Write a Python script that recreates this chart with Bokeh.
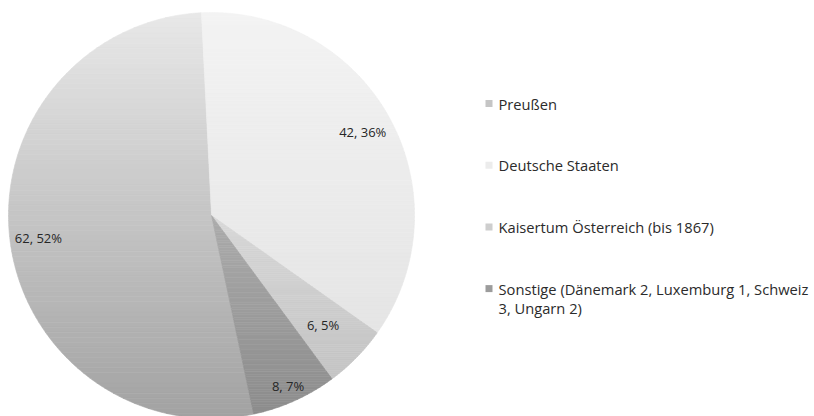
import numpy as np
from bokeh.plotting import figure
from bokeh.models import Range1d
from bokeh.core.properties import value
from bokeh.embed import file_html
from bokeh.resources import INLINE

# ---- data ----
categories = ["Preußen", "Deutsche Staaten", "Kaisertum Österreich (bis 1867)",
              "Sonstige (Dänemark 2, Luxemburg 1, Schweiz 3, Ungarn 2)"]
legend_lines = [["Preußen"], ["Deutsche Staaten"], ["Kaisertum Österreich (bis 1867)"],
                ["Sonstige (Dänemark 2, Luxemburg 1, Schweiz", "3, Ungarn 2)"]]
counts = [62, 42, 6, 8]
percent_labels = ["52%", "36%", "5%", "7%"]

# ---- style ----
grad_top = [0xE8, 0xF3, 0xD8, 0xAC]
grad_bot = [0xA2, 0xE5, 0xC4, 0x8C]
label_radius = [0.86, 0.85, 0.77, 0.92]
first_slice_angle = 168.0  # degrees clockwise from 12 o'clock
FONT = "Open Sans"

W, H = 814, 416
cx, cy, R = 211.0, H - 215.0, 203.0

p = figure(width=W, height=H, output_backend="svg", toolbar_location=None,
           x_range=Range1d(0, W), y_range=Range1d(0, H), min_border=0,
           tools="")
p.axis.visible = False
p.grid.visible = False
p.outline_line_color = None
p.background_fill_color = "white"
p.border_fill_color = "white"


def clip(poly, y, keep_above):
    out = []
    n = len(poly)
    for i in range(n):
        a = poly[i]
        b = poly[(i + 1) % n]
        ina = a[1] >= y if keep_above else a[1] <= y
        inb = b[1] >= y if keep_above else b[1] <= y
        if ina:
            out.append(a)
        if ina != inb:
            t = (y - a[1]) / (b[1] - a[1])
            out.append((a[0] + t * (b[0] - a[0]), y))
    return out


def hexgray(v):
    v = int(round(v))
    return "#%02x%02x%02x" % (v, v, v)


total = float(sum(counts))
theta = first_slice_angle
mids = []
for i, c in enumerate(counts):
    span = c / total * 360.0
    t0, t1 = theta, theta + span
    mids.append((t0 + t1) / 2.0)
    ts = np.radians(np.linspace(t0, t1, max(8, int(span * 2))))
    pts = [(cx, cy)] + [(cx + R * np.sin(t), cy + R * np.cos(t)) for t in ts]
    ys = [q[1] for q in pts]
    ymin, ymax = min(ys), max(ys)
    nb = 80
    edges = np.linspace(ymax, ymin, nb + 1)
    xs_l, ys_l, cols = [], [], []
    for k in range(nb):
        band = clip(pts, edges[k + 1], True)
        band = clip(band, edges[k], False) if band else []
        if len(band) < 3:
            continue
        f = (k + 0.5) / nb
        col = hexgray(grad_top[i] + (grad_bot[i] - grad_top[i]) * f)
        xs_l.append([q[0] for q in band])
        ys_l.append([q[1] for q in band])
        cols.append(col)
    p.patches(xs_l, ys_l, fill_color=cols, line_color=cols, line_width=0.6)
    theta = t1

# data labels
lx, ly, lt = [], [], []
for i, c in enumerate(counts):
    t = np.radians(mids[i])
    r = R * label_radius[i]
    lx.append(cx + r * np.sin(t))
    ly.append(cy + r * np.cos(t))
    lt.append("%d, %s" % (c, percent_labels[i]))
p.text(lx, ly, text=lt, text_font=value(FONT), text_font_size="13px",
       text_color="#262626", text_align="center", text_baseline="middle")

# legend
leg_x, leg_y0, leg_step, line_gap = 488.5, H - 103.0, 61.7, 19.0
sw_x, sw_y, sw_c = [], [], []
tx, ty, tt = [], [], []
for i, lines in enumerate(legend_lines):
    yy = leg_y0 - i * leg_step
    sw_x.append(leg_x)
    sw_y.append(yy)
    sw_c.append(hexgray((grad_top[i] + grad_bot[i]) / 2))
    for j, s in enumerate(lines):
        tx.append(leg_x + 9.5)
        ty.append(yy - j * line_gap)
        tt.append(s)
p.rect(sw_x, sw_y, width=7, height=7, fill_color=sw_c, line_color=None)
p.text(tx, ty, text=tt, text_font=value(FONT), text_font_size="14.7px",
       text_color="#2b2b2b", text_align="left", text_baseline="middle")

open("out.html", "w").write(file_html(p, INLINE))
